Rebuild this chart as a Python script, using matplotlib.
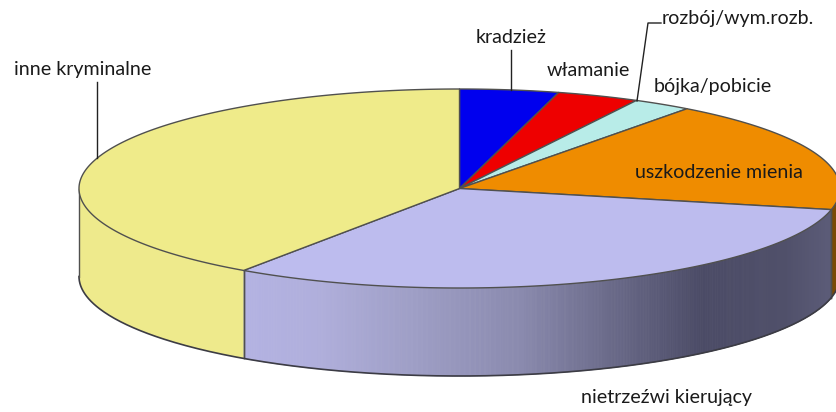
import numpy as np
import matplotlib
matplotlib.use("Agg")
import matplotlib.pyplot as plt
from matplotlib.colors import LinearSegmentedColormap

categories = ["kradzież", "włamanie", "bójka/pobicie", "uszkodzenie mienia",
              "nietrzeźwi kierujący", "inne kryminalne"]
values = [4.2, 3.5, 2.5, 18.2, 31.2, 40.4]
top_colors = ["#0000EE", "#EE0000", "#B8ECE8", "#EF8C00", "#BDBCEE", "#EFEB8A"]
side_colors = ["#0000AA", "#AA0000", "#80A8A8", "#7A4A05", "#B3B2E2", "#EEEA8C"]

plt.rcParams["font.family"] = ["Lato", "DejaVu Sans"]
W, H = 836, 412
fig = plt.figure(figsize=(W / 100, H / 100), dpi=100, facecolor="white")
ax = fig.add_axes([0, 0, 1, 1])
ax.set_xlim(0, W)
ax.set_ylim(H, 0)
ax.axis("off")

cx, cy, rx, ry, depth = 459.5, 188.5, 380.5, 99.5, 88.0
edge = "#50504f"
purple_shade = LinearSegmentedColormap.from_list("shade", [
    (0.00, "#B3B2E2"), (0.12, "#B0AFDC"), (0.30, "#9D9DC4"), (0.47, "#8A8AAE"),
    (0.62, "#6B6B8A"), (0.78, "#4B4B66"), (0.92, "#50506A"), (1.00, "#5C5C78")])


def ell(t):
    t = np.radians(t)
    return cx + rx * np.sin(t), cy - ry * np.cos(t)


bounds = np.concatenate([[0], np.cumsum(values)]) / np.sum(values) * 360

# side walls
for i, (a, b) in enumerate(zip(bounds[:-1], bounds[1:])):
    lo, hi = max(a, 90), min(b, 270)
    if lo >= hi:
        continue
    n = max(2, int((hi - lo) * 4))
    ts = np.linspace(lo, hi, n + 1)
    if categories[i].startswith("nietrz"):
        xa = ell(hi)[0]
        xb = ell(lo)[0]
        for t0, t1 in zip(ts[:-1], ts[1:]):
            x0, y0 = ell(t0)
            x1, y1 = ell(t1)
            c = purple_shade((0.5 * (x0 + x1) - xa) / (xb - xa))
            ax.fill([x0, x1, x1, x0], [y0, y1, y1 + depth, y0 + depth],
                    color=c, lw=0.6, zorder=2)
    else:
        x, y = ell(ts)
        ax.fill(np.r_[x, x[::-1]], np.r_[y, y[::-1] + depth],
                color=side_colors[i], lw=0, zorder=2)
    for t in (lo, hi):
        if 90 < t < 270:
            x, y = ell(t)
            ax.plot([x, x], [y, y + depth], color=edge, lw=1.0, zorder=3)

# outer silhouette of the wall
ts = np.linspace(90, 270, 361)
x, y = ell(ts)
ax.plot(x, y + depth, color="#3c3c44", lw=1.2, zorder=3)
ax.plot([cx - rx, cx - rx], [cy, cy + depth], color=edge, lw=1.0, zorder=3)

# top faces
for i, (a, b) in enumerate(zip(bounds[:-1], bounds[1:])):
    ts = np.linspace(a, b, max(3, int((b - a) * 4)))
    x, y = ell(ts)
    ax.fill(np.r_[cx, x], np.r_[cy, y], facecolor=top_colors[i],
            edgecolor=edge, lw=1.0, joinstyle="round", zorder=4)

# leader lines
ax.plot([511, 511], [50, 90], color="#222222", lw=1.0, zorder=5)
ax.plot([637, 648, 661], [101, 23, 23], color="#222222", lw=1.0, zorder=5)
ax.plot([96.5, 96.5], [82, 158], color="#222222", lw=1.0, zorder=5)

# labels
fs = 14.1
tc = "#1a1a1a"
label_pos = [(476, 43), (547, 76), (654, 92), (635, 177.5), (581, 403.5), (14, 75)]
for name, (lx, ly) in zip(categories, label_pos):
    ax.text(lx, ly, name, fontsize=fs, color=tc, ha="left", va="baseline", zorder=6)
ax.text(662, 24, "rozbój/wym.rozb.", fontsize=fs, color=tc, ha="left",
        va="baseline", zorder=6)

fig.savefig("out.png", dpi=100, facecolor="white")
